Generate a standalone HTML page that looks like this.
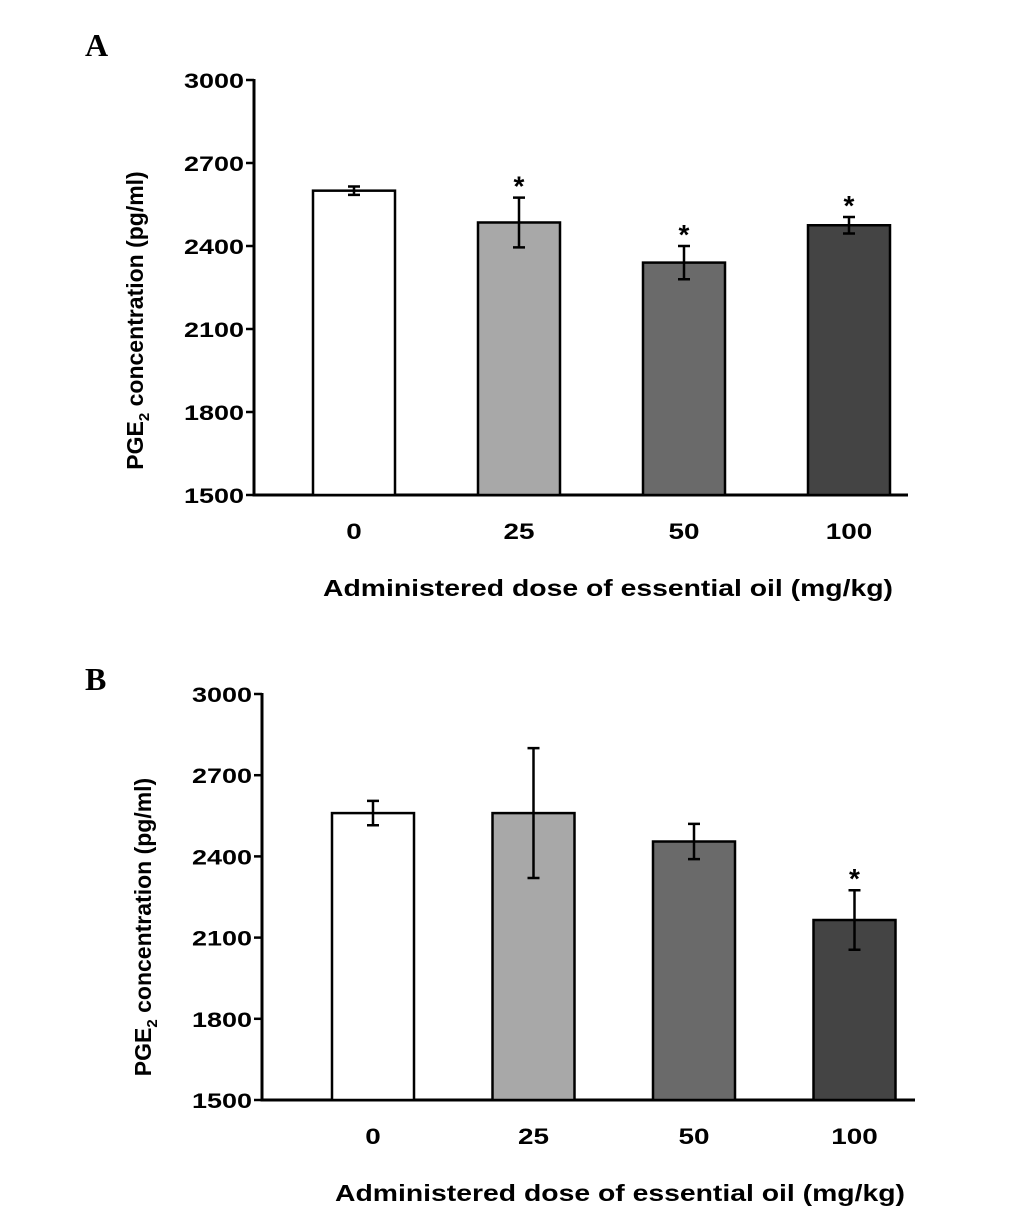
<!DOCTYPE html>
<html><head><meta charset="utf-8"><style>
body{margin:0;background:#fff;width:1033px;height:1220px;overflow:hidden}
svg text{font-family:"Liberation Sans",Arial,sans-serif;font-weight:bold}
svg text.serif{font-family:"Liberation Serif",serif}
</style></head><body>
<svg id="chart" width="1033" height="1220" xmlns="http://www.w3.org/2000/svg"></svg>
<script>
const categories=["0","25","50","100"];
const tickLabels=[1500,1800,2100,2400,2700,3000];
const valuesA=[2600,2485,2340,2475];
const errorsA=[15,90,60,30];
const sigA=[false,true,true,true];
const valuesB=[2560,2560,2455,2165];
const errorsB=[45,240,65,110];
const sigB=[false,false,false,true];
const fills=["#ffffff","#a8a8a8","#6a6a6a","#444444"];
const NS="http://www.w3.org/2000/svg";
const svg=document.getElementById('chart');
function mk(tag,attrs,parent,txt){const e=document.createElementNS(NS,tag);for(const k in attrs)e.setAttribute(k,attrs[k]);if(txt!==undefined)e.textContent=txt;(parent||svg).appendChild(e);return e;}
function panel(cfg,vals,errs,sig,id){
  const g=mk('g',{});
  
  
  const y=v=>cfg.y0+(v-1500)/1500*(cfg.y1-cfg.y0);
  const lab=mk('text',{x:cfg.labX,y:cfg.labY,'font-size':32,'class':'serif'},g,id);
  
  
  tickLabels.forEach(t=>{
    mk('line',{x1:cfg.ax-8,x2:cfg.ax,y1:y(t),y2:y(t),stroke:'#000','stroke-width':2.5},g);
    const s=String(t);
    const tt=mk('text',{x:cfg.ax-70,y:y(t)+8,'font-size':21,textLength:s.length*15,lengthAdjust:'spacingAndGlyphs'},g,s);
    
    
  });
  const xa=mk('line',{x1:cfg.ax,x2:cfg.axEnd,y1:cfg.y0,y2:cfg.y0,stroke:'#000','stroke-width':3},g);
  
  
  const ya=mk('line',{x1:cfg.ax,x2:cfg.ax,y1:cfg.y0+1.5,y2:cfg.y1-1,stroke:'#000','stroke-width':3},g);
  
  
  categories.forEach((c,i)=>{
    const cx=cfg.x0+i*cfg.step, w=82;
    const r=mk('rect',{x:cx-w/2,y:y(vals[i]),width:w,height:cfg.y0-y(vals[i]),fill:fills[i],stroke:'#000','stroke-width':2.5},g);
    
    
    const hi=y(vals[i]+errs[i]),lo=y(vals[i]-errs[i]);
    const eb=mk('path',{d:`M${cx},${hi}V${lo}M${cx-6},${hi}H${cx+6}M${cx-6},${lo}H${cx+6}`,stroke:'#000','stroke-width':2.5,fill:'none'},g);
    
    
    if(sig[i]){const s=mk('text',{x:cx,y:hi-2,'font-size':28,'text-anchor':'middle'},g,'*');
      
      }
    const L=c.length*15.5;
    const xl=mk('text',{x:cx-L/2,y:cfg.y0+44,'font-size':22,textLength:L,lengthAdjust:'spacingAndGlyphs'},g,c);
    
    
  });
  const xt=mk('text',{x:cfg.xtX,y:cfg.y0+101,'font-size':23,textLength:570,lengthAdjust:'spacingAndGlyphs'},g,'Administered dose of essential oil (mg/kg)');
  
  
  const yc=(cfg.y0+cfg.y1)/2+cfg.ytOff;
  const yt=mk('text',{x:0,y:0,'font-size':23,'text-anchor':'middle',transform:`translate(${cfg.ytX},${yc}) rotate(-90)`},g);
  
  
  yt.appendChild(document.createTextNode('PGE'));
  mk('tspan',{'font-size':15,dy:6},yt,'2');
  mk('tspan',{dy:-6},yt,' concentration (pg/ml)');
}
panel({y0:495,y1:80,ax:254,axEnd:908,x0:354,step:165,labX:85,labY:56,xtX:323,ytX:143,ytOff:33},valuesA,errorsA,sigA,'A');
panel({y0:1100,y1:694,ax:262,axEnd:915,x0:373,step:160.5,labX:85,labY:690,xtX:335,ytX:151,ytOff:30},valuesB,errorsB,sigB,'B');
</script>
</body></html>
